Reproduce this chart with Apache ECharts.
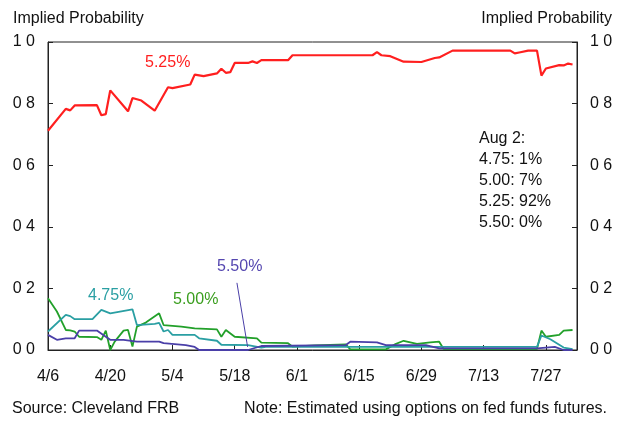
<!DOCTYPE html>
<html>
<head>
<meta charset="utf-8">
<script src="https://cdn.jsdelivr.net/npm/echarts@6/dist/echarts.min.js"></script>
<style>
  html, body { margin: 0; padding: 0; background: #fff; }
  #chart { width: 624px; height: 421px; }
</style>
</head>
<body>
<div id="chart"></div>
<script>
// implied probabilities of the fed funds target after the Aug 8 meeting (2006)
var yTicks = [0, 0.2, 0.4, 0.6, 0.8, 1.0];

var redDates = ['4/6','4/10','4/11','4/12','4/17','4/18','4/19','4/20','4/24','4/25','4/27','4/30','5/3','5/4','5/8','5/9','5/11','5/14','5/15','5/16','5/17','5/18','5/21','5/22','5/23','5/24','5/30','5/31','6/18','6/19','6/20','6/22','6/25','6/29','7/2','7/3','7/6','7/19','7/20','7/21','7/23','7/25','7/26','7/27','7/30','7/31','8/1','8/2'];
var redValues = [0.712,0.783,0.778,0.794,0.795,0.762,0.766,0.843,0.775,0.818,0.81,0.777,0.853,0.85,0.862,0.894,0.889,0.898,0.913,0.9,0.902,0.932,0.932,0.937,0.932,0.941,0.941,0.957,0.957,0.967,0.957,0.954,0.936,0.935,0.948,0.95,0.972,0.972,0.963,0.966,0.972,0.972,0.891,0.914,0.925,0.924,0.93,0.927];

var greenDates = ['4/6','4/8','4/10','4/11','4/12','4/13','4/17','4/18','4/19','4/20','4/21','4/23','4/24','4/25','4/26','4/28','5/1','5/2','5/6','5/9','5/14','5/15','5/16','5/18','5/23','5/24','5/30','5/31','6/5','6/12','6/13','6/21','6/23','6/25','6/28','7/1','7/3','7/4','7/25','7/26','7/27','7/30','7/31','8/2'];
var greenValues = [0.168,0.125,0.065,0.064,0.06,0.043,0.042,0.033,0.063,0.0,0.027,0.063,0.065,0.011,0.076,0.089,0.119,0.081,0.076,0.07,0.067,0.043,0.065,0.043,0.038,0.024,0.022,0.011,0.015,0.018,0.002,0.002,0.018,0.03,0.02,0.025,0.027,0.003,0.003,0.063,0.043,0.049,0.063,0.065];

var tealDates = ['4/6','4/10','4/11','4/12','4/16','4/18','4/20','4/25','4/26','4/30','5/1','5/2','5/3','5/4','5/9','5/10','5/14','5/15','5/21','5/24','5/25','7/25','7/26','7/28','7/31','8/2'];
var tealValues = [0.06,0.114,0.11,0.1,0.1,0.13,0.119,0.132,0.081,0.085,0.088,0.06,0.065,0.049,0.049,0.038,0.03,0.017,0.016,0.008,0.01,0.01,0.047,0.035,0.008,0.003];

var purpleDates = ['4/6','4/8','4/10','4/12','4/13','4/17','4/19','4/20','4/23','4/26','5/1','5/2','5/7','5/9','5/10','5/21','5/24','6/12','6/13','6/19','6/21','6/30','7/3','7/25','7/29','7/31','8/2'];
var purpleValues = [0.049,0.033,0.038,0.038,0.063,0.063,0.043,0.033,0.033,0.027,0.027,0.022,0.016,0.01,0.0,0.0,0.013,0.016,0.027,0.025,0.016,0.016,0.005,0.005,0.01,0.0,0.0];

var noteLines = ['Aug 2:', '4.75: 1%', '5.00: 7%', '5.25: 92%', '5.50: 0%'];

var RED = '#ff1f1f', GREEN = '#22a02a', TEAL = '#2a9fa3', PURPLE = '#4a3fa8';
var FONT = '"Liberation Sans", Arial, sans-serif';
var TXT = '#111';

function dayOf(s) {
  var p = s.split('/');
  return Math.round((Date.UTC(2006, p[0] - 1, +p[1]) - Date.UTC(2006, 3, 6)) / 864e5);
}
function pairs(dates, values) {
  return dates.map(function (d, i) { return [dayOf(d), values[i]]; });
}
function dateLabel(v) {
  var d = new Date(Date.UTC(2006, 3, 6 + v));
  return (d.getUTCMonth() + 1) + '/' + d.getUTCDate();
}
function tickLabel(v) {
  return v.toFixed(1).replace('.', ' ');
}

var chart = echarts.init(document.getElementById('chart'));

function yAxis(pos) {
  return {
    type: 'value', position: pos, min: 0, max: 1, interval: 0.2,
    splitLine: { show: false },
    axisLine: { show: true, lineStyle: { color: '#222', width: 1 } },
    axisTick: { show: true, inside: true, length: 5, lineStyle: { color: '#222' } },
    axisLabel: { margin: 13, color: TXT, fontSize: 16, fontFamily: FONT, formatter: tickLabel }
  };
}

function line(name, data, color, width) {
  return {
    name: name, type: 'line', data: data, symbol: 'none', silent: true,
    lineStyle: { color: color, width: width }
  };
}

var purpleSeries = line('5.50%', pairs(purpleDates, purpleValues), PURPLE, 1.8);
purpleSeries.markLine = {
  silent: true, symbol: ['none', 'none'], label: { show: false },
  lineStyle: { color: PURPLE, width: 1, type: 'solid' },
  data: [[{ coord: [42.5, 0.218] }, { coord: [44.9, 0.01] }]]
};

function text(x, y, str, color, align) {
  return {
    type: 'text', x: x, y: y,
    style: { text: str, fill: color, font: '16px ' + FONT, textAlign: align || 'left', textVerticalAlign: 'middle' }
  };
}

var graphics = [
  text(13, 19, 'Implied Probability', TXT),
  text(612, 19, 'Implied Probability', TXT, 'right'),
  text(145, 63, '5.25%', RED),
  text(88, 296, '4.75%', TEAL),
  text(173, 300, '5.00%', '#3a9e1e'),
  text(217, 267, '5.50%', '#5547b0'),
  text(12, 409, 'Source: Cleveland FRB', TXT),
  text(607, 409, 'Note: Estimated using options on fed funds futures.', TXT, 'right')
];
noteLines.forEach(function (s, i) {
  graphics.push(text(479, 139 + i * 21, s, TXT));
});

chart.setOption({
  animation: false,
  backgroundColor: '#fff',
  grid: { left: 48, right: 47, top: 42, bottom: 71, show: true, borderColor: '#222', borderWidth: 1 },
  xAxis: {
    type: 'value', min: 0, max: 119, interval: 14,
    splitLine: { show: false },
    axisLine: { show: true, lineStyle: { color: '#222', width: 1 } },
    axisTick: { show: true, inside: true, length: 5, lineStyle: { color: '#222' } },
    axisLabel: { margin: 19, color: TXT, fontSize: 16, fontFamily: FONT, formatter: dateLabel, showMaxLabel: false }
  },
  yAxis: [yAxis('left'), yAxis('right')],
  series: [
    line('5.00%', pairs(greenDates, greenValues), GREEN, 1.8),
    line('4.75%', pairs(tealDates, tealValues), TEAL, 1.8),
    purpleSeries,
    line('5.25%', pairs(redDates, redValues), RED, 2.2)
  ],
  graphic: graphics
});
</script>
</body>
</html>
